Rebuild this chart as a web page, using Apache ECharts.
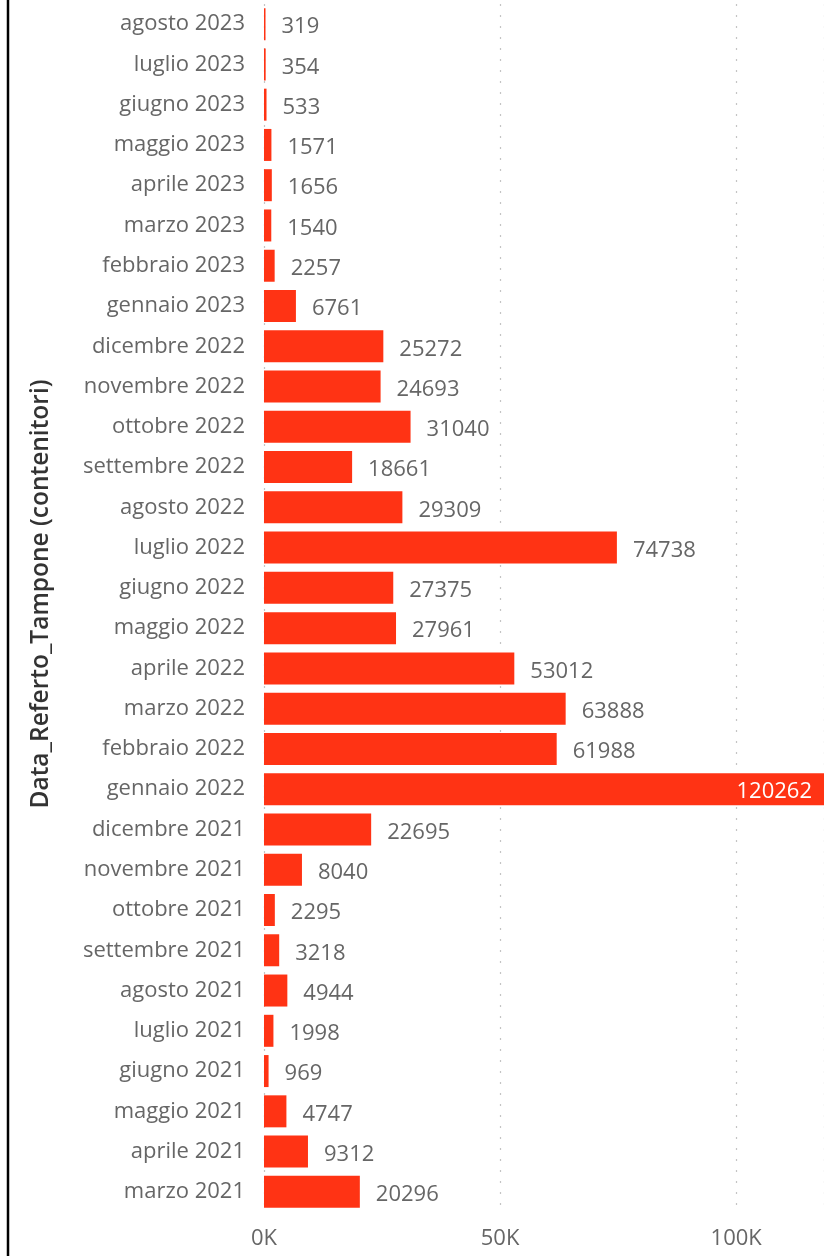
<!DOCTYPE html>
<html>
<head>
<meta charset="utf-8">
<script src="https://cdn.jsdelivr.net/npm/echarts@6/dist/echarts.min.js"></script>
<style>
  html, body { margin: 0; padding: 0; background: #fff; }
  #chart { width: 824px; height: 1256px; }
</style>
</head>
<body>
<div id="chart"></div>
<script>
// mesi dal più vecchio (in basso) al più recente (in alto)
const months = [
  'marzo 2021', 'aprile 2021', 'maggio 2021', 'giugno 2021', 'luglio 2021',
  'agosto 2021', 'settembre 2021', 'ottobre 2021', 'novembre 2021', 'dicembre 2021',
  'gennaio 2022', 'febbraio 2022', 'marzo 2022', 'aprile 2022', 'maggio 2022',
  'giugno 2022', 'luglio 2022', 'agosto 2022', 'settembre 2022', 'ottobre 2022',
  'novembre 2022', 'dicembre 2022', 'gennaio 2023', 'febbraio 2023', 'marzo 2023',
  'aprile 2023', 'maggio 2023', 'giugno 2023', 'luglio 2023', 'agosto 2023'
]
const counts = [
  20296, 9312, 4747, 969, 1998,
  4944, 3218, 2295, 8040, 22695,
  120262, 61988, 63888, 53012, 27961,
  27375, 74738, 29309, 18661, 31040,
  24693, 25272, 6761, 2257, 1540,
  1656, 1571, 533, 354, 319
]
const xTicks = [0, 50000, 100000]
const axisTitle = 'Data_Referto_Tampone (contenitori)'

const font = '"Open Sans", "Noto Sans", sans-serif'
const barColor = '#FF3314'
const xMax = 118600

const chart = echarts.init(document.getElementById('chart'))

const seriesData = counts.map(v => {
  const item = { value: v }
  if (v > xMax * 0.9) {
    // la barra più lunga ha l'etichetta dentro, in bianco
    item.label = { position: 'insideRight', color: '#fff', offset: [4, 3] }
  }
  return item
})

const option = {
  animation: false,
  backgroundColor: '#fff',
  textStyle: { fontFamily: font },
  grid: {
    left: 264,
    right: 0,
    top: 4,
    bottom: 44,
    containLabel: false
  },
  xAxis: {
    type: 'value',
    min: 0,
    max: xMax,
    interval: xTicks[1] - xTicks[0],
    axisLine: { show: false },
    axisTick: { show: false },
    splitLine: {
      show: true,
      lineStyle: { type: [2, 9], color: '#c4c4c4', width: 1.2 }
    },
    axisLabel: {
      fontFamily: font,
      fontSize: 22,
      color: '#666',
      margin: 16,
      showMaxLabel: false,
      formatter: v => xTicks.includes(v) ? (v / 1000) + 'K' : ''
    }
  },
  yAxis: {
    type: 'category',
    data: months,
    axisLine: { show: false },
    axisTick: { show: false },
    splitLine: { show: false },
    axisLabel: {
      fontFamily: font,
      fontSize: 22,
      color: '#666',
      margin: 19
    },
    name: axisTitle,
    nameLocation: 'middle',
    nameRotate: 90,
    nameGap: 210,
    nameTextStyle: {
      fontFamily: font,
      fontSize: 24.5,
      fontWeight: 600,
      color: '#333',
      padding: [0, 0, 0, 28]
    }
  },
  series: [
    {
      type: 'bar',
      data: seriesData,
      barWidth: 32,
      itemStyle: { color: barColor },
      label: {
        show: true,
        position: 'right',
        distance: 16,
        offset: [0, 3],
        fontFamily: font,
        fontSize: 22,
        color: '#666'
      }
    }
  ],
  graphic: [
    {
      type: 'line',
      shape: { x1: 8, y1: 0, x2: 8, y2: 1256 },
      style: { stroke: '#000', lineWidth: 2.5 }
    }
  ]
}

chart.setOption(option)
</script>
</body>
</html>
